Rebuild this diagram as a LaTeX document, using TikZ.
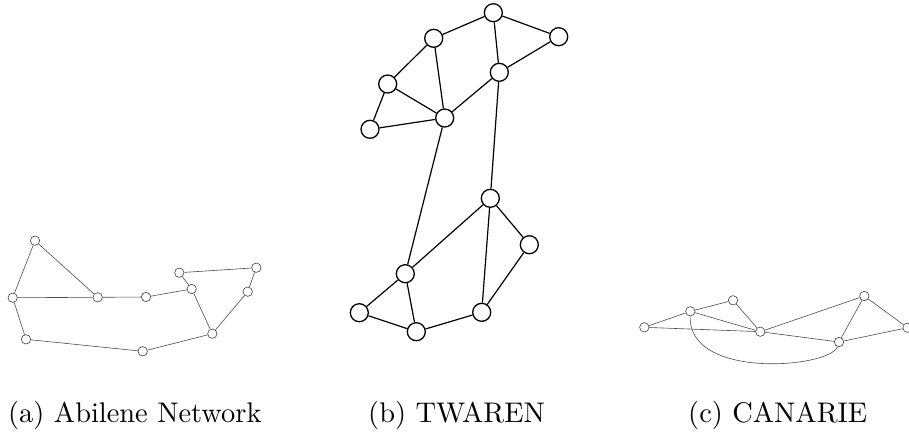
\documentclass[tikz,border=0pt]{standalone}
\usepackage{graphicx}
\newcommand{\captxt}[1]{\scalebox{2.84}{\fontsize{10}{12}\selectfont #1}}
\begin{document}
\begin{tikzpicture}[x=1pt,y=-1pt,
  small/.style={circle,draw=black!75,line width=0.6pt,fill=white,inner sep=0pt,minimum size=9.4pt},
  big/.style={circle,draw=black,line width=1.3pt,fill=white,inner sep=0pt,minimum size=18pt},
  thinedge/.style={draw=black!70,line width=0.6pt},
  thickedge/.style={draw=black,line width=1.2pt},
  captext/.style={anchor=base west,inner sep=0pt}]
\useasboundingbox (0,0) rectangle (909,432);
% Abilene
\node[small] (A1) at (35,240.7) {};
\node[small] (A2) at (12.7,297.7) {};
\node[small] (A3) at (97.7,297.3) {};
\node[small] (A4) at (146,297) {};
\node[small] (A5) at (191.7,289) {};
\node[small] (A6) at (179.3,272.7) {};
\node[small] (A7) at (256.3,267.7) {};
\node[small] (A8) at (247.7,291.7) {};
\node[small] (A9) at (212.3,333.7) {};
\node[small] (A10) at (142.7,351.3) {};
\node[small] (A11) at (26,339.3) {};
\path[thinedge] (A1)--(A2) (A1)--(A3) (A2)--(A3) (A3)--(A4) (A4)--(A5) (A5)--(A6)
  (A6)--(A7) (A7)--(A8) (A8)--(A9) (A5)--(A9) (A9)--(A10) (A10)--(A11) (A11)--(A2);
% TWAREN
\node[big] (T1) at (493.3,12.7) {};
\node[big] (T2) at (558.7,36.7) {};
\node[big] (T3) at (433.7,38.3) {};
\node[big] (T4) at (499.3,72.3) {};
\node[big] (T5) at (387.7,84) {};
\node[big] (T6) at (444.7,118) {};
\node[big] (T7) at (370,129.3) {};
\node[big] (T8) at (490.3,198.3) {};
\node[big] (T9) at (529.3,244.7) {};
\node[big] (T10) at (405.3,273.7) {};
\node[big] (T11) at (359.3,312.7) {};
\node[big] (T12) at (416.3,331.7) {};
\node[big] (T13) at (481.7,312.3) {};
\path[thickedge] (T1)--(T2) (T1)--(T3) (T1)--(T4) (T2)--(T4) (T3)--(T5) (T3)--(T6)
  (T4)--(T6) (T5)--(T6) (T5)--(T7) (T7)--(T6) (T6)--(T10) (T4)--(T8) (T8)--(T10)
  (T8)--(T9) (T8)--(T13) (T9)--(T13) (T10)--(T11) (T10)--(T12) (T11)--(T12) (T12)--(T13);
% CANARIE
\node[small] (C1) at (644.3,327.3) {};
\node[small] (C2) at (690.3,311.3) {};
\node[small] (C3) at (733,300.3) {};
\node[small] (C4) at (760.3,331.7) {};
\node[small] (C5) at (864.3,296) {};
\node[small] (C6) at (839,342) {};
\node[small] (C7) at (907.5,327.7) {};
\path[thinedge] (C1)--(C2) (C1)--(C4) (C2)--(C3) (C2)--(C4) (C3)--(C4) (C4)--(C5)
  (C4)--(C6) (C5)--(C6) (C5)--(C7) (C6)--(C7);
\path[thinedge] (C2) .. controls (688,380) and (830,368) .. (C6);
% captions
\node[captext] (capa) at (8,422) {\captxt{(a) Abilene Network}};
\node[captext] (capb) at (368,422) {\captxt{(b) TWAREN}};
\node[captext] (capc) at (688,422) {\captxt{(c) CANARIE}};
\end{tikzpicture}
\end{document}
